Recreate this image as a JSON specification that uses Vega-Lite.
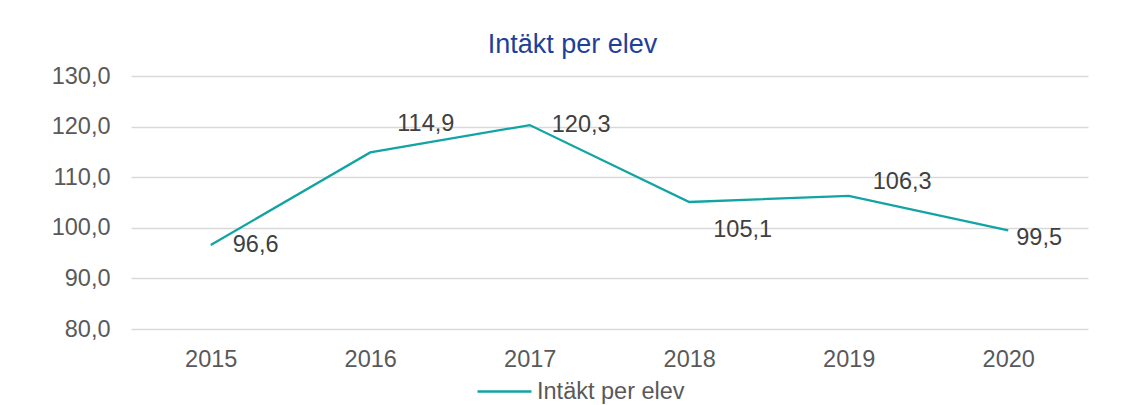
{
  "$schema": "https://vega.github.io/schema/vega-lite/v6.json",
  "autosize": "none",
  "width": 957,
  "height": 253,
  "padding": {"left": 131, "top": 76, "right": 50, "bottom": 76},
  "background": "#ffffff",
  "config": {
    "locale": {"number": {"decimal": ",", "thousands": " ", "grouping": [3], "currency": ["", " kr"]}},
    "view": {"stroke": null},
    "font": "Liberation Sans"
  },
  "title": {
    "text": "Intäkt per elev",
    "font": "Liberation Sans",
    "fontSize": 27,
    "fontWeight": "normal",
    "color": "#1F3F99",
    "anchor": "middle",
    "frame": "group",
    "dx": -37,
    "offset": 5
  },
  "data": {
    "values": [
      {"year": "2015", "value": 96.6, "series": "Intäkt per elev"},
      {"year": "2016", "value": 114.9, "series": "Intäkt per elev"},
      {"year": "2017", "value": 120.3, "series": "Intäkt per elev"},
      {"year": "2018", "value": 105.1, "series": "Intäkt per elev"},
      {"year": "2019", "value": 106.3, "series": "Intäkt per elev"},
      {"year": "2020", "value": 99.5, "series": "Intäkt per elev"}
    ]
  },
  "encoding": {
    "x": {
      "field": "year",
      "type": "ordinal",
      "scale": {"type": "point", "padding": 0.5},
      "axis": {
        "title": null,
        "labelAngle": 0,
        "labelFont": "Liberation Sans",
        "labelFontSize": 23.5,
        "labelColor": "#595959",
        "labelPadding": 18,
        "ticks": false,
        "domain": false,
        "grid": false
      }
    },
    "y": {
      "field": "value",
      "type": "quantitative",
      "scale": {"domain": [80, 130], "nice": false, "zero": false},
      "axis": {
        "title": null,
        "values": [80, 90, 100, 110, 120, 130],
        "format": ".1f",
        "labelFont": "Liberation Sans",
        "labelFontSize": 23.5,
        "labelColor": "#595959",
        "labelPadding": 21,
        "ticks": false,
        "domain": false,
        "grid": true,
        "gridColor": "#D9D9D9",
        "gridWidth": 1.5
      }
    }
  },
  "layer": [
    {
      "mark": {"type": "line", "strokeWidth": 2.25},
      "encoding": {
        "color": {
          "field": "series",
          "type": "nominal",
          "scale": {"range": ["#12A3A3"]},
          "legend": {
            "title": null,
            "orient": "none",
            "legendX": 345,
            "legendY": 287,
            "padding": 0,
            "symbolType": "stroke",
            "symbolSize": 2916,
            "symbolStrokeWidth": 2.5,
            "labelFont": "Liberation Sans",
            "labelFontSize": 23.5,
            "labelColor": "#595959",
            "labelOffset": 4
          }
        }
      }
    },
    {
      "transform": [{"filter": "datum.year == '2015' || datum.year == '2017'"}],
      "mark": {"type": "text", "align": "left", "baseline": "middle", "dx": 22, "dy": 0, "fontSize": 23.5, "color": "#404040", "font": "Liberation Sans"},
      "encoding": {"text": {"field": "value", "type": "quantitative", "format": ".1f"}}
    },
    {
      "transform": [{"filter": "datum.year == '2016'"}],
      "mark": {"type": "text", "align": "left", "baseline": "middle", "dx": 27, "dy": -28, "fontSize": 23.5, "color": "#404040", "font": "Liberation Sans"},
      "encoding": {"text": {"field": "value", "type": "quantitative", "format": ".1f"}}
    },
    {
      "transform": [{"filter": "datum.year == '2018'"}],
      "mark": {"type": "text", "align": "left", "baseline": "middle", "dx": 24, "dy": 28, "fontSize": 23.5, "color": "#404040", "font": "Liberation Sans"},
      "encoding": {"text": {"field": "value", "type": "quantitative", "format": ".1f"}}
    },
    {
      "transform": [{"filter": "datum.year == '2019'"}],
      "mark": {"type": "text", "align": "left", "baseline": "middle", "dx": 24, "dy": -14, "fontSize": 23.5, "color": "#404040", "font": "Liberation Sans"},
      "encoding": {"text": {"field": "value", "type": "quantitative", "format": ".1f"}}
    },
    {
      "transform": [{"filter": "datum.year == '2020'"}],
      "mark": {"type": "text", "align": "left", "baseline": "middle", "dx": 8, "dy": 8, "fontSize": 23.5, "color": "#404040", "font": "Liberation Sans"},
      "encoding": {"text": {"field": "value", "type": "quantitative", "format": ".1f"}}
    }
  ]
}
